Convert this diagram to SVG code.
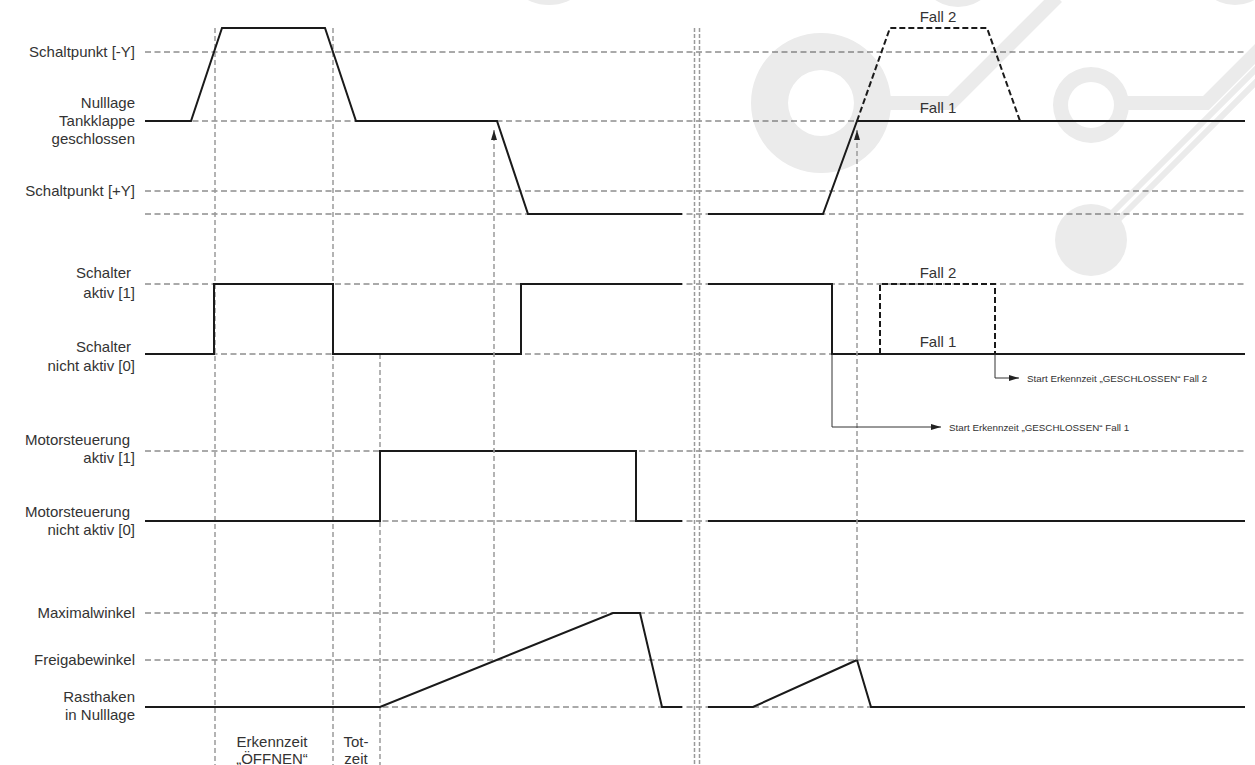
<svg xmlns="http://www.w3.org/2000/svg" width="1255" height="765" viewBox="0 0 1255 765">
<style>
text{font-family:"Liberation Sans",Arial,sans-serif;fill:#333}
.lbl{font-size:15px;text-anchor:end}
.fall{font-size:15px;text-anchor:middle}
.ctr{font-size:15px;text-anchor:middle}
.small{font-size:9.8px}
.hgrid{stroke:#555;stroke-width:1;stroke-dasharray:6 3.5;fill:none}
.vgrid{stroke:#9a9a9a;stroke-width:1.5;stroke-dasharray:5 3;fill:none}
.vdbl{stroke:#9a9a9a;stroke-width:1.5;stroke-dasharray:4 2;fill:none}
.sig{stroke:#1a1a1a;stroke-width:2;fill:none;stroke-linejoin:miter}
.sigd{stroke:#1a1a1a;stroke-width:2;fill:none;stroke-dasharray:6 3}
.wm{fill:#ebebeb}
.wmb{stroke:#ebebeb;stroke-width:14;fill:none}
.wmt{stroke:#ebebeb;stroke-width:6;fill:none}
.ann{stroke:#333;stroke-width:1;fill:none}
</style>
<defs>
<marker id="ah" viewBox="0 0 10 6" refX="10" refY="3" markerWidth="10" markerHeight="6" markerUnits="userSpaceOnUse" orient="auto">
<path d="M0,0 L10,3 L0,6 Z" fill="#222"/>
</marker>
<marker id="ahup" viewBox="0 0 10 6" refX="10" refY="3" markerWidth="10" markerHeight="6" markerUnits="userSpaceOnUse" orient="auto">
<path d="M0,0 L10,3 L0,6 Z" fill="#222"/>
</marker>
</defs>
<rect width="1255" height="765" fill="#fff"/>
<g id="watermark">
<circle class="wm" cx="549" cy="-42" r="47"/>
<circle class="wm" cx="958" cy="-33" r="40"/>
<circle class="wm" cx="1235" cy="-35" r="40"/>
<path class="wm" fill-rule="evenodd" d="M751,103 a70,70 0 1,0 140,0 a70,70 0 1,0 -140,0 Z M788,103 a33,33 0 1,0 66,0 a33,33 0 1,0 -66,0 Z"/>
<path class="wmb" d="M885,103 H951 L1057,-3"/>
<path class="wm" fill-rule="evenodd" d="M1053,105 a38,38 0 1,0 76,0 a38,38 0 1,0 -76,0 Z M1068,105 a23,23 0 1,0 46,0 a23,23 0 1,0 -46,0 Z"/>
<path class="wmb" d="M1127,103 H1206 L1262,47"/>
<circle class="wm" cx="1091" cy="240" r="36"/>
<path class="wmt" d="M1100,225 L1262,63"/>
<path class="wmt" d="M1106,232 L1262,76"/>
</g>
<g id="grid">
<path class="hgrid" d="M145,52 H1245 M145,121 H1245 M145,191 H1245 M145,214 H1245 M145,284 H1245 M145,354 H1245 M145,451 H1245 M145,521 H1245 M145,613 H1245 M145,660 H1245 M145,707 H1245"/>
<path class="vgrid" d="M215,28 V765 M333,28 V765 M380,354 V765"/>
<path class="vdbl" d="M694.5,28 V765 M699.5,28 V765"/>
</g>
<g id="signal-tankklappe">
<path class="sig" d="M145,121 H191 L222,28 H325 L356,121 H497 L528,214 H682"/>
<path class="sig" d="M708,214 H823 L857,121 H1245"/>
<path class="sigd" d="M857,121 L890,28 H987 L1020,121"/>
<text class="fall" x="938" y="22">Fall 2</text>
<text class="fall" x="938" y="113">Fall 1</text>
</g>
<g id="signal-schalter">
<path class="sig" d="M145,354 H214 V284 H333 V354 H521 V284 H682"/>
<path class="sig" d="M708,284 H832 V354 H1245"/>
<path class="sigd" d="M880,354 V284 H995 V354"/>
<text class="fall" x="938" y="278">Fall 2</text>
<text class="fall" x="938" y="347">Fall 1</text>
</g>
<g id="signal-motor">
<path class="sig" d="M145,521 H380 V451 H636 V521 H682"/>
<path class="sig" d="M708,521 H1245"/>
</g>
<g id="signal-rasthaken">
<path class="sig" d="M145,707 H380 L613,613 H640 L662,707 H682"/>
<path class="sig" d="M708,707 H753 L857,660 L871,707 H1245"/>
</g>
<g id="connectors">
<path class="vgrid" d="M494,653 V130" marker-end="url(#ahup)"/>
<path class="vgrid" d="M857,660 V130" marker-end="url(#ahup)"/>
<path class="ann" d="M832,354 V427 H941" marker-end="url(#ah)"/>
<path class="ann" d="M995,354 V378 H1019" marker-end="url(#ah)"/>
</g>
<g id="annotations">
<text class="small" x="949" y="430.5">Start Erkennzeit „GESCHLOSSEN“ Fall 1</text>
<text class="small" x="1027" y="381.5">Start Erkennzeit „GESCHLOSSEN“ Fall 2</text>
</g>
<g id="labels">
<text class="lbl" x="135" y="57">Schaltpunkt [-Y]</text>
<text class="lbl" x="135" y="108">Nulllage</text>
<text class="lbl" x="135" y="126">Tankklappe</text>
<text class="lbl" x="135" y="144">geschlossen</text>
<text class="lbl" x="135" y="196">Schaltpunkt [+Y]</text>
<text class="lbl" x="131" y="278">Schalter</text>
<text class="lbl" x="135" y="298">aktiv [1]</text>
<text class="lbl" x="131" y="352">Schalter</text>
<text class="lbl" x="135" y="371">nicht aktiv [0]</text>
<text class="lbl" x="130" y="445">Motorsteuerung</text>
<text class="lbl" x="135" y="463">aktiv [1]</text>
<text class="lbl" x="130" y="517">Motorsteuerung</text>
<text class="lbl" x="135" y="535">nicht aktiv [0]</text>
<text class="lbl" x="135" y="618">Maximalwinkel</text>
<text class="lbl" x="135" y="665">Freigabewinkel</text>
<text class="lbl" x="135" y="702">Rasthaken</text>
<text class="lbl" x="135" y="720">in Nulllage</text>
<text class="ctr" x="272" y="747">Erkennzeit</text>
<text class="ctr" x="272" y="764">„ÖFFNEN“</text>
<text class="ctr" x="356" y="747">Tot-</text>
<text class="ctr" x="356" y="764">zeit</text>
</g>
</svg>
